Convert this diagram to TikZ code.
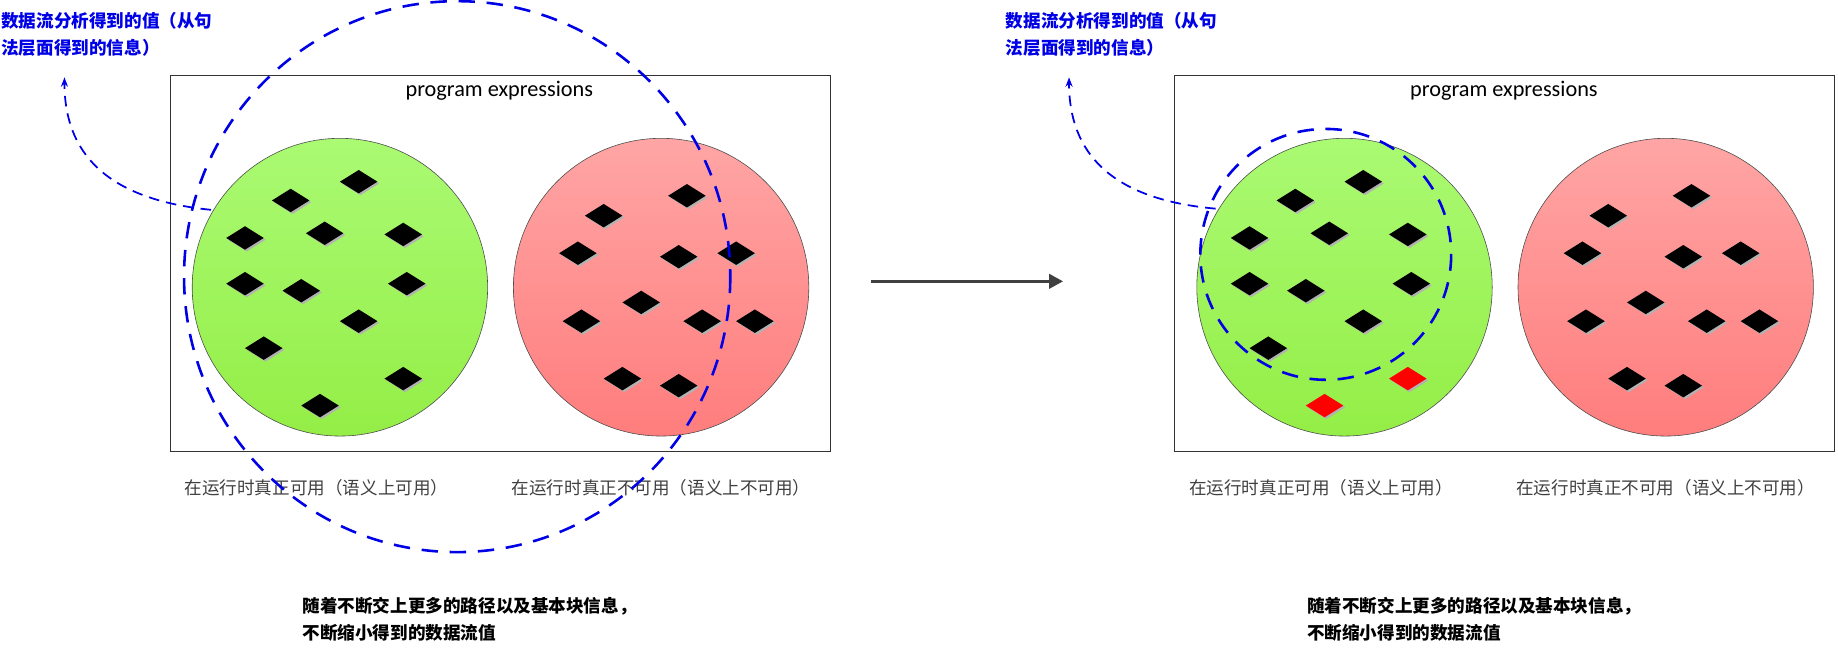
\documentclass[tikz,border=0pt]{standalone}
\usepackage{fontspec}
\setsansfont{Carlito}
\newfontfamily\cjk{Noto Sans CJK SC}
\usetikzlibrary{arrows.meta}
\definecolor{dblue}{RGB}{0,0,230}
\tikzset{
  dia/.pic={\fill[gray!60] (1.5,-8.5)--(17.5,1.5)--(1.5,11.5)--(-14.5,1.5)--cycle;
            \fill[black] (0,-10)--(16,0)--(0,10)--(-16,0)--cycle;},
  rdia/.pic={\fill[gray!60] (1.5,-8.5)--(17.5,1.5)--(1.5,11.5)--(-14.5,1.5)--cycle;
            \fill[red] (0,-10)--(16,0)--(0,10)--(-16,0)--cycle;},
  bluedash/.style={dblue, line width=2.2pt, dash pattern=on 14pt off 10pt},
  bluetxt/.style={text=dblue, font=\cjk\bfseries\fontsize{15}{23}\selectfont, align=left, anchor=north west, inner sep=0pt},
  graytxt/.style={text=black!75, font=\cjk\fontsize{15}{15}\selectfont},
  bottxt/.style={font=\cjk\bfseries\fontsize{15}{23}\selectfont, align=left, anchor=north west, inner sep=0pt},
  greenell/.style={draw=black!70, line width=0.5pt, top color={rgb,255:red,170;green,250;blue,115}, bottom color={rgb,255:red,148;green,238;blue,70}},
  redell/.style={draw=black!70, line width=0.5pt, top color={rgb,255:red,255;green,165;blue,165}, bottom color={rgb,255:red,255;green,125;blue,125}},
  curv/.style={dblue, line width=1.5pt, dash pattern=on 9pt off 6pt, -{Stealth[length=8pt,width=6pt]}},
}
\begin{document}
\begin{tikzpicture}[x=1pt,y=-1pt]
\useasboundingbox (0,0) rectangle (1568,552);
\foreach \dx/\tag in {0/L,857/R}{
\begin{scope}[xshift=\dx pt]
  \node[draw=black!80, line width=0.6pt, minimum width=563pt, minimum height=321pt, inner sep=0pt] (box\tag) at (426.5,224.5) {};
  \node[font=\sffamily\fontsize{19}{19}\selectfont] (title\tag) at (426,77) {program expressions};
  \draw[greenell] (290,245) ellipse [x radius=126, y radius=127];
  \draw[redell] (564,245) ellipse [x radius=126, y radius=127];
  \foreach \x/\y in {306/155,248/171,209/203,277/199,344/200,209/242,257/248,347/242,306/274,225/297}
    \pic at (\x,\y) {dia};
  \foreach \x/\y in {586/167,515/184,493/216,579/219,628/216,547/258,496/274,599/274,644/274,531/323,579/329}
    \pic at (\x,\y) {dia};
  \node[graytxt] (lab1\tag) at (270,416) {在运行时真正可用（语义上可用）};
  \node[graytxt] (lab2\tag) at (564,416) {在运行时真正不可用（语义上不可用）};
  \node[bluetxt] (info\tag) at (1,10) {数据流分析得到的值（从句\\法层面得到的信息）};
  \node[bottxt] (bot\tag) at (258,509) {随着不断交上更多的路径以及基本块信息，\\不断缩小得到的数据流值};
\end{scope}}
\pic at (344,323) {dia};
\pic at (273,346) {dia};
\pic at (1201,323) {rdia};
\pic at (1130,346) {rdia};
\draw[bluedash] (390,236) ellipse [x radius=233, y radius=235];
\draw[bluedash] (1131,217) ellipse [x radius=107, y radius=107];
\coordinate (sL) at (180,179);
\coordinate (eL) at (55,66);
\coordinate (sR) at (1037,178);
\coordinate (eR) at (912,66);
\draw[curv] (sL) .. controls (90,170) and (55,130) .. (eL);
\draw[curv] (sR) .. controls (947,170) and (912,130) .. (eR);
\coordinate (a1) at (743,240);
\coordinate (a2) at (907,240);
\draw[black!75, line width=3pt, -{Triangle[length=12pt,width=12pt]}] (a1) -- (a2);
\end{tikzpicture}
\end{document}
